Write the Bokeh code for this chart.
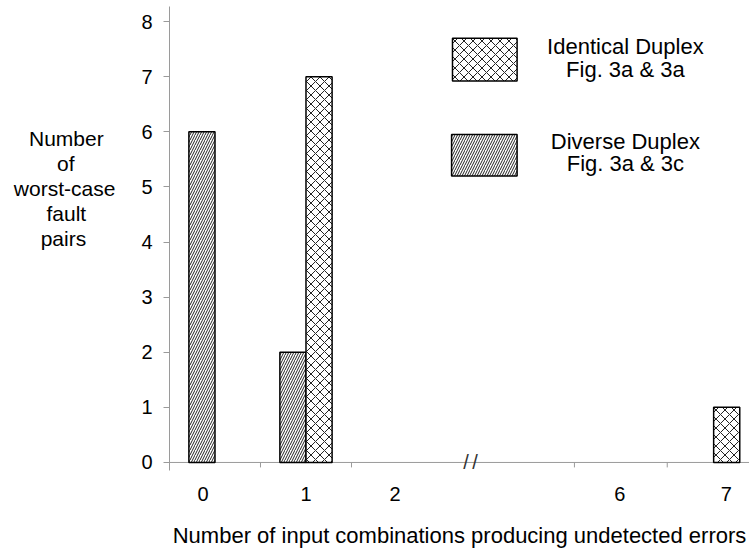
from bokeh.plotting import figure
from bokeh.models import Range1d, FixedTicker
from bokeh.core.properties import value
from bokeh.embed import file_html
from bokeh.resources import INLINE

# ---- data ----
categories = ["0", "1", "2", "6", "7"]
diverse = [6, 2, 0, 0, 0]      # Diverse Duplex, Fig. 3a & 3c
identical = [0, 7, 0, 0, 1]    # Identical Duplex, Fig. 3a & 3a
y_ticks = [0, 1, 2, 3, 4, 5, 6, 7, 8]
identical_label = ["Identical Duplex", "Fig. 3a & 3a"]
diverse_label = ["Diverse Duplex", "Fig. 3a & 3c"]
x_title = "Number of input combinations producing undetected errors"
y_title_lines = ["Number", "of", "worst-case", "fault", "pairs"]

# ---- layout (axis break between 2 and 6) ----
slot_centers = [0.5, 1.5, 2.5, 4.96, 5.98]
label_pos = [0.37, 1.5, 2.48, 4.95, 6.12]
slot_edges = [0, 1, 2, 4.45, 5.47]
break_x = 3.308
bar_w = 0.287
X_END = 6.374
Y_START, Y_END = -0.146, 8.274
NBSP = "\u00a0"
title_pad = [2, 7, 0, 5, 5]   # trailing no-break spaces that centre the lines

FONT = "Liberation Sans"
AXIS_GREY = "#9a9a9a"

p = figure(width=749, height=550, output_backend="svg", toolbar_location=None,
           x_range=Range1d(0, X_END), y_range=Range1d(Y_START, Y_END),
           min_border_left=169, min_border_right=0, min_border_top=6, min_border_bottom=0)
p.outline_line_color = None
p.xgrid.visible = False
p.ygrid.visible = False
p.background_fill_color = "white"
p.border_fill_color = "white"

# x axis line and slot tick marks (drawn inside the frame at y = 0)
p.segment(x0=[0], y0=[0], x1=[X_END], y1=[0], line_color=AXIS_GREY, line_width=1)
p.segment(x0=slot_edges, y0=[0] * len(slot_edges), x1=slot_edges, y1=[-0.09] * len(slot_edges),
          line_color=AXIS_GREY, line_width=1)

common = dict(fill_color="white", line_color="black", line_width=1.5, hatch_color="#222222")
diag = dict(hatch_pattern="/", hatch_scale=5, hatch_weight=1)
cross = dict(hatch_pattern="x", hatch_scale=9, hatch_weight=1)

dx, dtop = [], []
ix, itop = [], []
for c, d, i in zip(slot_centers, diverse, identical):
    if d > 0:
        dx.append(c - bar_w / 2); dtop.append(d)
    if i > 0:
        ix.append(c + bar_w / 2); itop.append(i)

p.vbar(x=dx, width=bar_w, top=dtop, bottom=0, **diag, **common)
p.vbar(x=ix, width=bar_w, top=itop, bottom=0, **cross, **common)

# legend swatches and texts
p.quad(left=[3.11], right=[3.82], top=[7.70], bottom=[6.92], **cross, **common)
p.quad(left=[3.10], right=[3.82], top=[5.95], bottom=[5.20], **diag, **common)
for txt, ys in ((identical_label, [7.55, 7.13]), (diverse_label, [5.82, 5.42])):
    p.text(x=[5.01, 5.01], y=ys, text=txt, text_align="center", text_baseline="alphabetic",
           text_font=value(FONT), text_font_size="22px", text_color="black")

# axis break mark "//"
p.text(x=[break_x - 0.05, break_x + 0.05], y=[0, 0], text=["/", "/"], text_align="center",
       text_baseline="middle", text_font=value(FONT), text_font_size="20px", text_color="#333333")

# x axis (labels only; line and ticks drawn above)
xa = p.xaxis[0]
xa.ticker = FixedTicker(ticks=label_pos, minor_ticks=[])
xa.major_label_overrides = {pos: c for pos, c in zip(label_pos, categories)}
xa.major_tick_line_color = None
xa.major_tick_out = 0
xa.major_tick_in = 0
xa.minor_tick_line_color = None
xa.axis_line_color = None
xa.major_label_standoff = 16
xa.major_label_text_font = FONT
xa.major_label_text_font_size = "20px"
xa.major_label_text_color = "black"
xa.axis_label = x_title
xa.axis_label_text_font = FONT
xa.axis_label_text_font_size = "22px"
xa.axis_label_text_font_style = "normal"
xa.axis_label_text_color = "black"
xa.axis_label_standoff = 19

# y axis
ya = p.yaxis[0]
ya.ticker = FixedTicker(ticks=y_ticks, minor_ticks=[])
ya.axis_line_color = AXIS_GREY
ya.major_tick_line_color = AXIS_GREY
ya.major_tick_out = 6
ya.major_tick_in = 0
ya.minor_tick_line_color = None
ya.major_label_standoff = 11
ya.major_label_text_font = FONT
ya.major_label_text_font_size = "20px"
ya.major_label_text_color = "black"
ya.axis_label = "\n".join(t + NBSP * n for t, n in zip(y_title_lines, title_pad)) + "\n\n\n\n"
ya.axis_label_orientation = "horizontal"
ya.axis_label_standoff = 23
ya.axis_label_text_font = FONT
ya.axis_label_text_font_size = "21px"
ya.axis_label_text_font_style = "normal"
ya.axis_label_text_color = "black"
ya.axis_label_text_line_height = 1.09

open("out.html", "w").write(file_html(p, INLINE))
